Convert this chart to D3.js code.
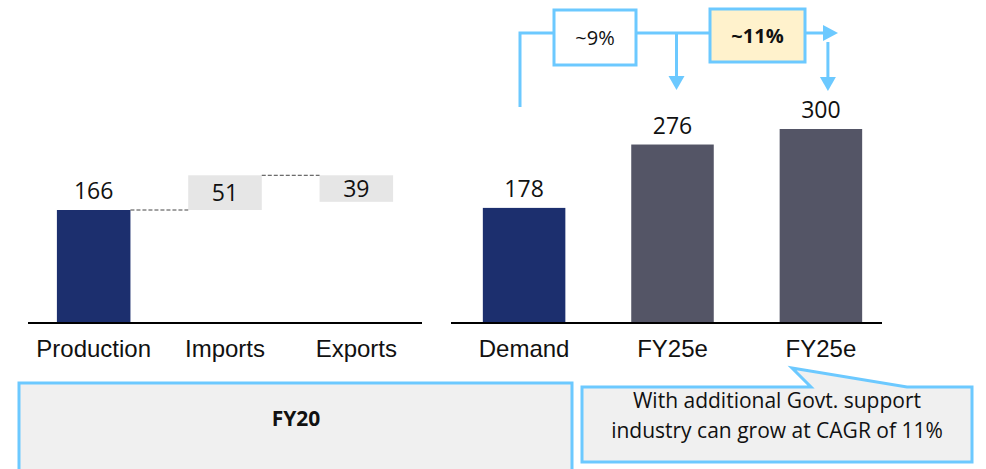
<!DOCTYPE html>
<html>
  <head>
    <meta charset="utf-8">
    <title>FY20 balance and FY25e demand</title>
    <script src="https://cdn.jsdelivr.net/npm/d3@7"></script>
    <style>
      body { margin: 0; background: #fff; }
      svg { display: block; font-family: "Open Sans", Lato, sans-serif; }
      .lbl { font-size: 23px; fill: #111; }
      .cat { font-size: 24px; fill: #111; }
    </style>
  </head>
  <body>
    <svg id="chart" width="986" height="469"></svg>

    <script>
      // data
      flowCats = ["Production", "Imports", "Exports"];
      flowValues = [166, 51, -39];
      demandCats = ["Demand", "FY25e", "FY25e (Govt.)"];
      demandLabels = ["Demand", "FY25e", "FY25e"];
      demandValues = [178, 276, 300];
      growthLabels = ["~9%", "~11%"];
      periodLabel = "FY20";
      noteLines = ["With additional Govt. support", "industry can grow at CAGR of 11%"];

      navy = "#1c2f6e";
      slate = "#545566";
      pale = "#e6e6e6";
      blue = "#6cc9ff";

      chart = d3.select("#chart");
      baseY = 323;

      // waterfall steps
      steps = [];
      running = 0;
      flowValues.forEach(function(v, i) {
        let start = running;
        running += v;
        steps.push({ cat: flowCats[i], start: start, end: running, value: Math.abs(v), first: i === 0 });
      });

      xLeft = d3.scaleBand().domain(flowCats).range([28, 422]).paddingInner(0.44).paddingOuter(0.22);
      yLeft = d3.scaleLinear().domain([0, 166]).range([baseY, 210]);

      xRight = d3.scaleBand().domain(demandCats).range([468, 877]).paddingInner(0.444).paddingOuter(0.1);
      yRight = d3.scaleLinear().domain([0, 300]).range([baseY, 129]);

      left = chart.append("g");
      left.selectAll(".step")
          .data(steps)
        .enter().append("rect")
          .attr("x", function(d) { return xLeft(d.cat); })
          .attr("width", xLeft.bandwidth())
          .attr("y", function(d) { return yLeft(Math.max(d.start, d.end)); })
          .attr("height", function(d) { return yLeft(Math.min(d.start, d.end)) - yLeft(Math.max(d.start, d.end)); })
          .style("fill", function(d) { return d.first ? navy : pale; });

      // connectors
      left.selectAll(".conn")
          .data(steps.slice(0, -1))
        .enter().append("line")
          .attr("x1", function(d) { return xLeft(d.cat) + xLeft.bandwidth(); })
          .attr("x2", function(d, i) { return xLeft(steps[i + 1].cat); })
          .attr("y1", function(d) { return yLeft(d.end); })
          .attr("y2", function(d) { return yLeft(d.end); })
          .style("stroke", "#444")
          .style("stroke-width", 1)
          .style("stroke-dasharray", "4,2");

      left.selectAll(".val")
          .data(steps)
        .enter().append("text")
          .attr("class", "lbl")
          .attr("text-anchor", "middle")
          .attr("x", function(d) { return xLeft(d.cat) + xLeft.bandwidth() / 2; })
          .attr("y", function(d) {
            if (d.first) return yLeft(d.end) - 11;
            return (yLeft(d.start) + yLeft(d.end)) / 2 + 8;
          })
          .text(function(d) { return d.value; });

      xLeftAxis = d3.axisBottom(xLeft).tickSize(0).tickPadding(17);
      left.append("g")
          .attr("transform", "translate(0," + baseY + ")")
          .call(xLeftAxis)
          .call(function(g) {
            g.select(".domain").attr("d", "M28,0H422").style("stroke", "#000").style("stroke-width", 2);
            g.selectAll("text").attr("class", "cat").style("font-family", null).style("font-size", null);
          });

      // right panel
      right = chart.append("g");
      right.selectAll(".bar")
          .data(demandValues)
        .enter().append("rect")
          .attr("x", function(d, i) { return xRight(demandCats[i]); })
          .attr("width", xRight.bandwidth())
          .attr("y", function(d) { return yRight(d); })
          .attr("height", function(d) { return baseY - yRight(d); })
          .style("fill", function(d, i) { return i === 0 ? navy : slate; });

      right.selectAll(".val")
          .data(demandValues)
        .enter().append("text")
          .attr("class", "lbl")
          .attr("text-anchor", "middle")
          .attr("x", function(d, i) { return xRight(demandCats[i]) + xRight.bandwidth() / 2; })
          .attr("y", function(d) { return yRight(d) - 11; })
          .text(function(d) { return d; });

      xRightAxis = d3.axisBottom(xRight).tickSize(0).tickPadding(17)
        .tickFormat(function(d, i) { return demandLabels[i]; });
      right.append("g")
          .attr("transform", "translate(0," + baseY + ")")
          .call(xRightAxis)
          .call(function(g) {
            g.select(".domain").attr("d", "M451,0H882").style("stroke", "#000").style("stroke-width", 2);
            g.selectAll("text").attr("class", "cat").style("font-family", null).style("font-size", null);
          });

      // growth arrows
      arrows = chart.append("g");
      mid1 = xRight(demandCats[1]) + xRight.bandwidth() / 2;
      mid2 = xRight(demandCats[2]) + xRight.bandwidth() / 2;
      lineY = 33;

      function head(x, y, dir) {
        // dir: "down" or "right"
        let p = dir === "down"
          ? [[x - 8, y - 14], [x + 8, y - 14], [x, y]]
          : [[x - 15, y - 8], [x - 15, y + 8], [x, y]];
        arrows.append("path").attr("d", d3.line()(p) + "Z").style("fill", blue);
      }

      arrows.append("path")
          .attr("d", "M520,107V" + lineY + "H554")
          .style("fill", "none").style("stroke", blue).style("stroke-width", 3);
      arrows.append("line").attr("x1", 636).attr("x2", 710).attr("y1", lineY).attr("y2", lineY)
          .style("stroke", blue).style("stroke-width", 3);
      arrows.append("line").attr("x1", 805).attr("x2", 825).attr("y1", lineY).attr("y2", lineY)
          .style("stroke", blue).style("stroke-width", 3);
      head(838, lineY, "right");
      arrows.append("line").attr("x1", mid1 + 4).attr("x2", mid1 + 4).attr("y1", lineY).attr("y2", 77)
          .style("stroke", blue).style("stroke-width", 3);
      head(mid1 + 4, 90, "down");
      arrows.append("line").attr("x1", mid2 + 7).attr("x2", mid2 + 7).attr("y1", 42).attr("y2", 78)
          .style("stroke", blue).style("stroke-width", 3);
      head(mid2 + 7, 91, "down");

      growthBoxes = [
        { label: growthLabels[0], x: 554, y: 10, w: 82, h: 55, fill: "#fff", bold: false },
        { label: growthLabels[1], x: 710, y: 9, w: 95, h: 53, fill: "#fff2cc", bold: true }
      ];
      growthBoxes.forEach(function(b) {
        arrows.append("rect")
            .attr("x", b.x).attr("y", b.y).attr("width", b.w).attr("height", b.h)
            .style("fill", b.fill).style("stroke", blue).style("stroke-width", 3);
        arrows.append("text")
            .attr("x", b.x + b.w / 2).attr("y", b.y + b.h / 2 + 7)
            .attr("text-anchor", "middle")
            .style("font-size", "20px")
            .style("font-weight", b.bold ? "bold" : "normal")
            .style("fill", "#111")
            .text(b.label);
      });

      // bottom boxes
      chart.append("rect")
          .attr("x", 19).attr("y", 383).attr("width", 553).attr("height", 100)
          .style("fill", "#f0f0f0").style("stroke", blue).style("stroke-width", 3);
      chart.append("text")
          .attr("x", 296).attr("y", 426).attr("text-anchor", "middle")
          .style("font-size", "21px").style("font-weight", "bold").style("fill", "#111")
          .text(periodLabel);

      chart.append("path")
          .attr("d", "M582,387H811L792,368L907,387H972V462H582Z")
          .style("fill", "#f0f0f0").style("stroke", blue).style("stroke-width", 3)
          .style("stroke-linejoin", "miter");
      chart.selectAll(".note")
          .data(noteLines)
        .enter().append("text")
          .attr("x", 777)
          .attr("y", function(d, i) { return 408 + i * 30; })
          .attr("text-anchor", "middle")
          .style("font-size", "21px").style("fill", "#111")
          .text(function(d) { return d; });
    </script>
  </body>
</html>
